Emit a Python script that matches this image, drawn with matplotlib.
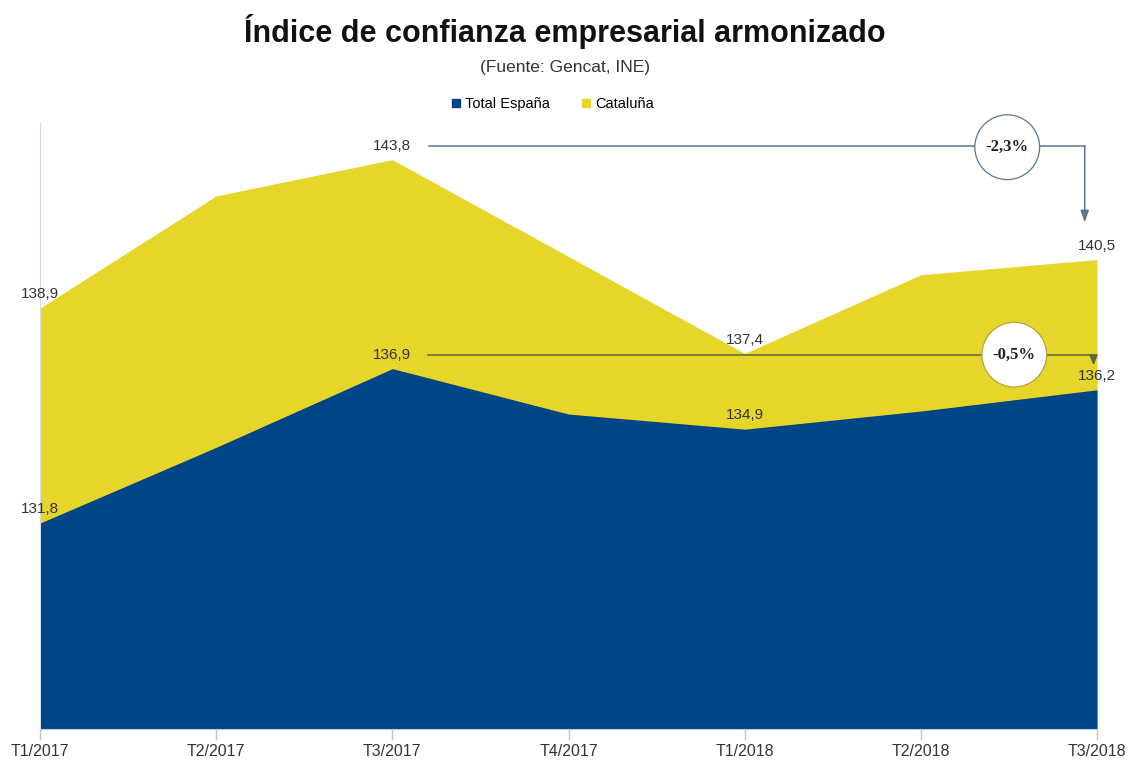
# -*- coding: utf-8 -*-

import matplotlib
matplotlib.use('Agg')
from matplotlib import pyplot as plt
from matplotlib.patches import Patch

#Datos
trimestres = ['T1/2017', 'T2/2017', 'T3/2017', 'T4/2017', 'T1/2018', 'T2/2018', 'T3/2018']
espana = [131.8, 134.3, 136.9, 135.4, 134.9, 135.5, 136.2]
cataluna = [138.9, 142.6, 143.8, 140.6, 137.4, 140.0, 140.5]
etiquetas = [0, 2, 4, 6]   #puntos con valor
var_cat = '-2,3%'
var_esp = '-0,5%'

AZUL = '#004586'
AMARILLO = '#e6d62a'
GRIS = '#5b7691'
SANS = ['Liberation Sans', 'DejaVu Sans']

def coma(v):
    return ('%.1f' % v).replace('.', ',')

x = list(range(len(trimestres)))

fig = plt.figure(figsize=(11.29, 7.61), dpi=100)
ax = fig.add_axes([0.0354, 0.042, 0.9363, 0.796])

#Areas (Cataluña detras, España delante)
ax.fill_between(x, 125, cataluna, color=AMARILLO, linewidth=0, zorder=1)
ax.fill_between(x, 125, espana, color=AZUL, linewidth=0, zorder=2)

ax.set_xlim(0, 6)
ax.set_ylim(125, 145)

#Etiquetas de valores
for i in etiquetas:
    for serie in (cataluna, espana):
        ax.annotate(coma(serie[i]), (i, serie[i]), xytext=(0, 10), textcoords='offset points',
                    ha='center', va='center', fontsize=11, color='#333333',
                    family=SANS, zorder=5)

#Flechas de variacion
dy = 0.46
y1 = cataluna[2] + dy
ax.plot([2.21, 5.93], [y1, y1], color=GRIS, lw=1.1, zorder=3)
ax.annotate('', xy=(5.93, cataluna[6] + 1.23), xytext=(5.93, y1),
            arrowprops=dict(arrowstyle='-|>,head_length=0.7,head_width=0.25', color=GRIS, lw=1.1,
                            shrinkA=0, shrinkB=0), zorder=3)
ax.text(5.49, y1 - 0.05, var_cat, ha='center', va='center', fontsize=12, fontweight='bold',
        family='Liberation Serif', color='#222222', zorder=6,
        bbox=dict(boxstyle='circle,pad=0.65', fc='white', ec=GRIS, lw=0.9))

y2 = espana[2] + dy
ax.plot([2.2, 5.98], [y2, y2], color='#5f6440', lw=1.1, zorder=3)
ax.annotate('', xy=(5.98, y2 - 0.35), xytext=(5.98, y2),
            arrowprops=dict(arrowstyle='-|>,head_length=0.6,head_width=0.25', color='#5f6440', lw=1.1,
                            shrinkA=0, shrinkB=0), zorder=3)
ax.text(5.53, y2, var_esp, ha='center', va='center', fontsize=12, fontweight='bold',
        family='Liberation Serif', color='#222222', zorder=6,
        bbox=dict(boxstyle='circle,pad=0.65', fc='white', ec='#b0a640', lw=0.9))

#Ejes
ax.set_xticks(x)
ax.set_xticklabels(trimestres, fontsize=11.5, family=SANS, color='#333333')
ax.tick_params(axis='x', length=8, width=1, color='#b8c8d8', pad=3)
ax.set_yticks([])
for s in ('top', 'right'):
    ax.spines[s].set_visible(False)
ax.spines['bottom'].set_color('#b8c8d8')
ax.spines['left'].set_color('#d0dde8')
ax.patch.set_alpha(0)

#Titulo, fuente y leyenda
fig.text(0.5, 0.958, 'Índice de confianza empresarial armonizado', ha='center', va='center',
         fontsize=22, fontweight='bold', family=SANS, color='#111111')
fig.text(0.5, 0.911, '(Fuente: Gencat, INE)', ha='center', va='center',
         fontsize=12.5, family=SANS, color='#333333')
fig.legend(handles=[Patch(color=AZUL, label='Total España'), Patch(color=AMARILLO, label='Cataluña')],
           loc='center', bbox_to_anchor=(0.49, 0.863), ncol=2, frameon=False,
           prop={'family': SANS, 'size': 10.5}, handlelength=0.55, handleheight=0.55,
           handletextpad=0.35, columnspacing=2.2)

fig.savefig('out.png', dpi=100)
